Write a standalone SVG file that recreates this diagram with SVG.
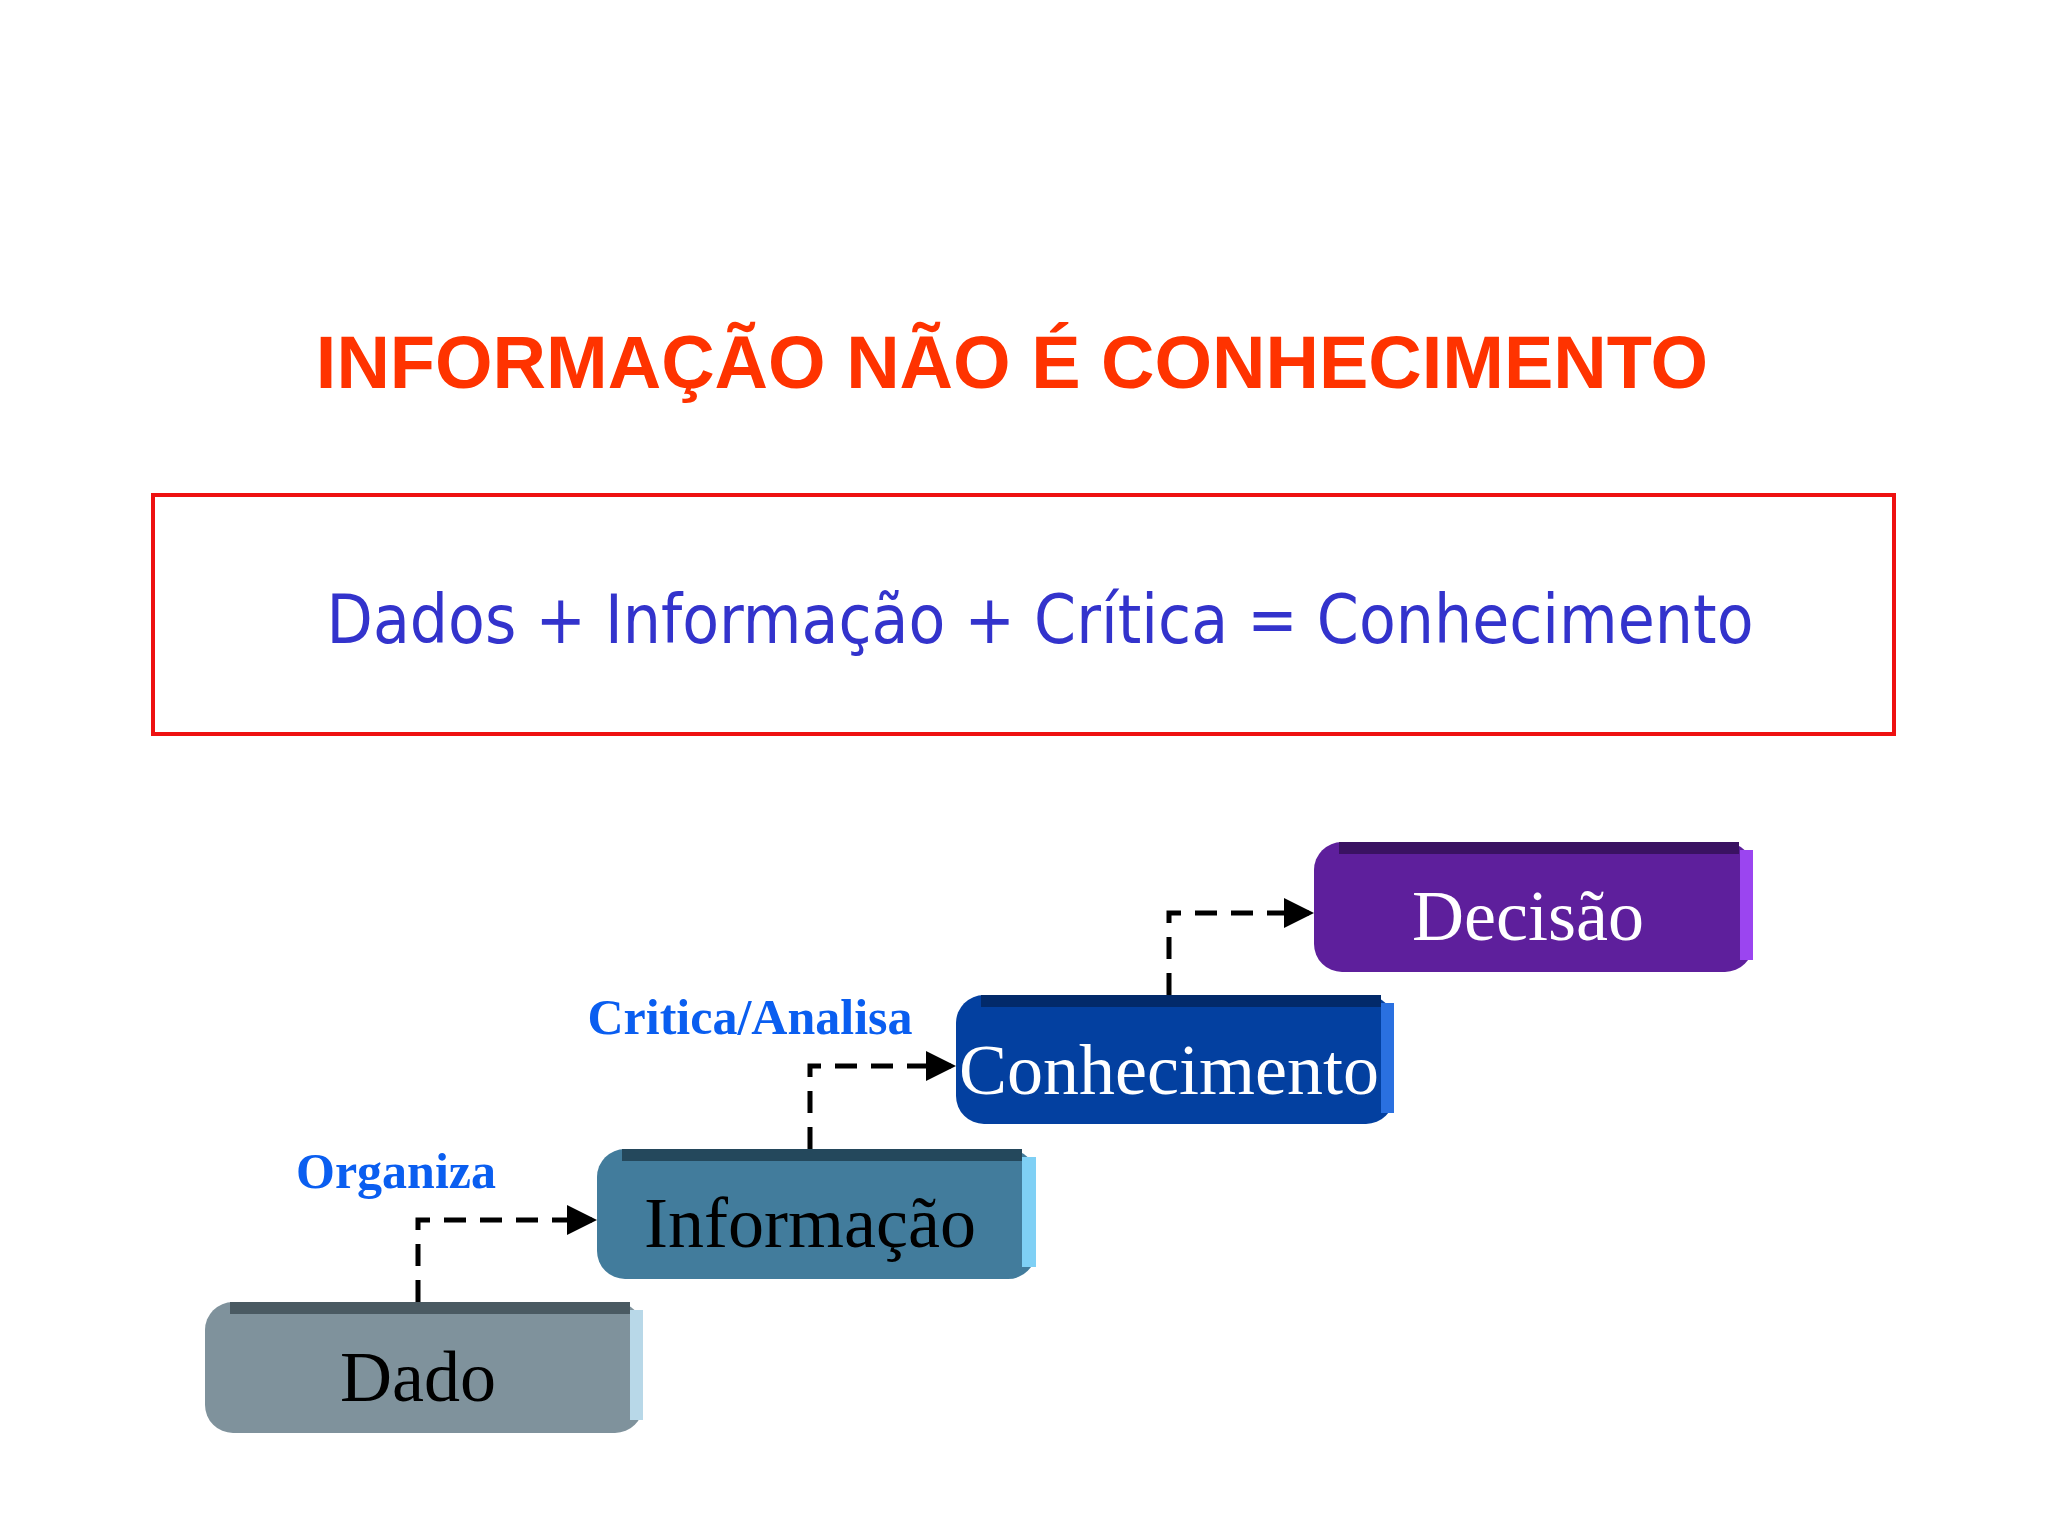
<svg xmlns="http://www.w3.org/2000/svg" width="2048" height="1536" viewBox="0 0 2048 1536">
<style>
.box text{font-family:"Liberation Serif",serif;font-size:72px;text-anchor:middle}
.lbl{font-family:"Liberation Serif",serif;font-weight:bold;font-size:50px;fill:#0A5EF0;text-anchor:middle}
.conn{fill:none;stroke:#000;stroke-width:5;stroke-dasharray:22,14}
</style>
<defs>
<marker id="ah" markerWidth="6" markerHeight="6" refX="5" refY="3" orient="auto" markerUnits="strokeWidth"><path d="M0,0L6,3L0,6z" fill="#000"/></marker>
</defs>
<rect width="2048" height="1536" fill="#fff"/>
<text x="1012" y="388" font-family="Liberation Sans,sans-serif" font-weight="bold" font-size="74" fill="#FF3300" text-anchor="middle">INFORMAÇÃO NÃO É CONHECIMENTO</text>
<rect x="153" y="495" width="1741" height="239" fill="none" stroke="#EE1111" stroke-width="4"/>
<text x="1040" y="643" font-family="DejaVu Sans,sans-serif" font-size="68" fill="#3333CC" text-anchor="middle" textLength="1427" lengthAdjust="spacingAndGlyphs">Dados + Informação + Crítica = Conhecimento</text>
<g id="dado" class="box"><rect x="205" y="1302" width="438" height="131" rx="28" fill="#7F929C"/><rect x="230" y="1302" width="400" height="12" fill="#4A5A62"/><rect x="630" y="1310" width="13" height="110" fill="#B8D8E8"/><text x="418" y="1401" fill="#000">Dado</text></g>
<g id="informacao" class="box"><rect x="597" y="1149" width="439" height="130" rx="28" fill="#427C9C"/><rect x="622" y="1149" width="400" height="12" fill="#24485C"/><rect x="1022" y="1157" width="14" height="110" fill="#7FD0F5"/><text x="810" y="1247" fill="#000">Informação</text></g>
<g id="conhecimento" class="box"><rect x="956" y="995" width="438" height="129" rx="28" fill="#0340A0"/><rect x="981" y="995" width="400" height="12" fill="#022A6A"/><rect x="1381" y="1003" width="13" height="110" fill="#2A70E0"/><text x="1169" y="1094" fill="#fff">Conhecimento</text></g>
<g id="decisao" class="box"><rect x="1314" y="842" width="439" height="130" rx="28" fill="#5E1F9C"/><rect x="1339" y="842" width="400" height="12" fill="#3A1262"/><rect x="1740" y="850" width="13" height="110" fill="#9B45F0"/><text x="1528" y="940" fill="#fff">Decisão</text></g>
<text class="lbl" x="396" y="1188">Organiza</text>
<text class="lbl" x="750" y="1034">Critica/Analisa</text>
<g id="connectors">
<path class="conn" d="M418,1302V1220H592" marker-end="url(#ah)"/>
<path class="conn" d="M810,1149V1066H951" marker-end="url(#ah)"/>
<path class="conn" d="M1169,995V913H1309" marker-end="url(#ah)"/>
</g>
</svg>
